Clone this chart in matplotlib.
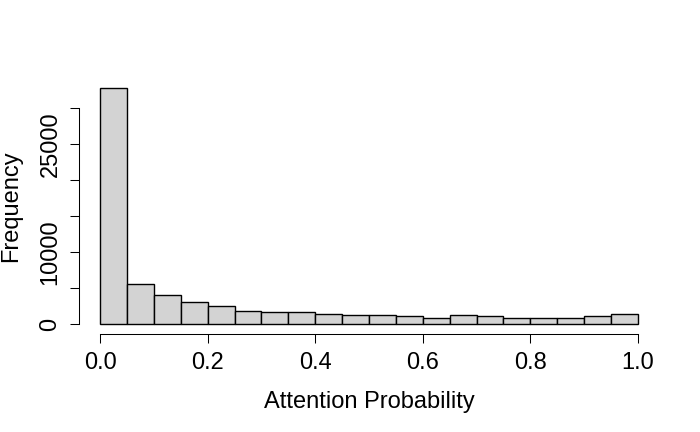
import numpy as np
import matplotlib
matplotlib.use("Agg")
import matplotlib.pyplot as plt

# histogram of attention probabilities, 20 bins of width 0.05
bin_edges = np.linspace(0.0, 1.0, 21)
counts = [32800, 5550, 4030, 3060, 2500, 1800, 1770, 1670, 1390, 1250,
          1250, 1110, 830, 1250, 1110, 830, 930, 930, 1110, 1480]

y_ticks = [0, 5000, 10000, 15000, 20000, 25000, 30000]
y_labels = ["0", "", "10000", "", "", "25000", ""]
x_ticks = [0.0, 0.2, 0.4, 0.6, 0.8, 1.0]

plt.rcParams["font.family"] = ["Liberation Sans", "DejaVu Sans"]
plt.rcParams["font.size"] = 17

fig = plt.figure(figsize=(7, 4.32), dpi=100)
ax = fig.add_axes([78.5 / 700, 1 - 333.7 / 432, 581 / 700, (333.7 - 78.9) / 432])

ax.bar(bin_edges[:-1], counts, width=np.diff(bin_edges), align="edge",
       color="#D3D3D3", edgecolor="black", linewidth=1.0)

ax.set_xlim(-0.04, 1.04)
ax.set_ylim(-0.04 * max(counts), 1.04 * max(counts))

# R-style axes: only left and bottom, spanning the tick range
ax.spines["top"].set_visible(False)
ax.spines["right"].set_visible(False)
ax.spines["left"].set_bounds(0, 30000)
ax.spines["bottom"].set_bounds(0, 1)
ax.spines["left"].set_linewidth(0.75)
ax.spines["bottom"].set_linewidth(0.75)

ax.set_xticks(x_ticks)
ax.set_xticklabels(["%.1f" % v for v in x_ticks])
ax.set_yticks(y_ticks)
ax.set_yticklabels(y_labels, rotation=90, va="center")
ax.tick_params(direction="out", length=6.5, width=0.75)
ax.tick_params(axis="x", pad=6.5)
ax.tick_params(axis="y", pad=5.8)

ax.set_xlabel("Attention Probability", labelpad=12.6)
ax.set_ylabel("Frequency", labelpad=12.5)

fig.savefig("out.png", dpi=100)
